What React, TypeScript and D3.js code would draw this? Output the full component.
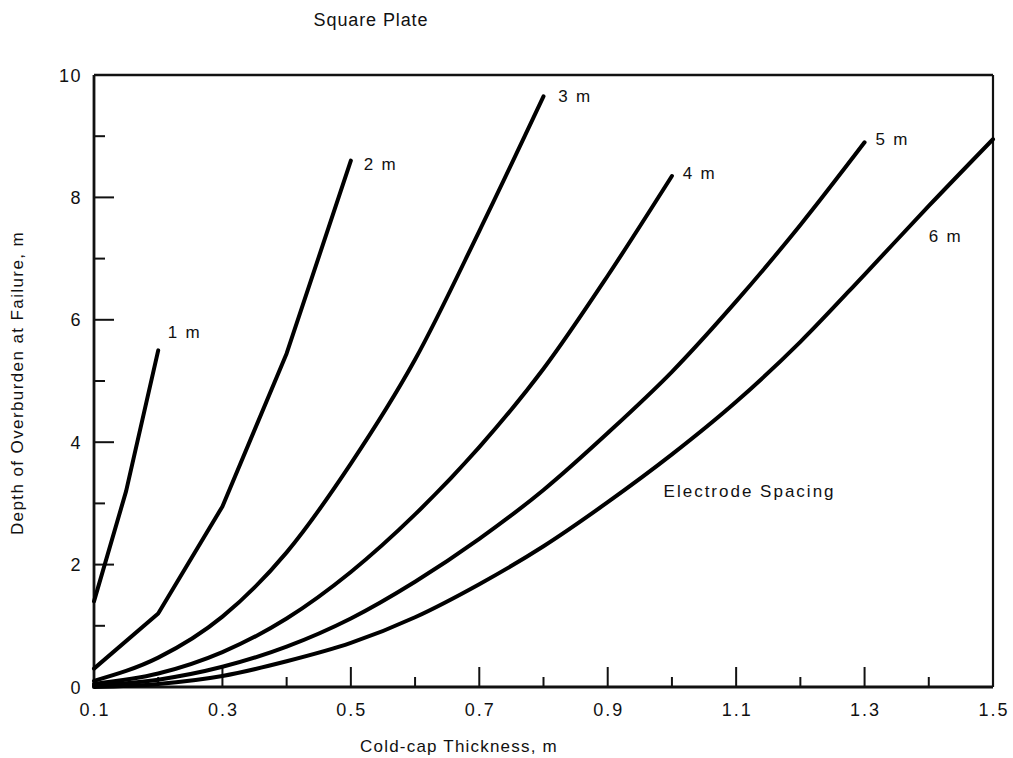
import React from "react";
import * as d3 from "d3";

const title = "Square Plate";
const xAxisTitle = "Cold-cap Thickness, m";
const yAxisTitle = "Depth of Overburden at Failure, m";
const annotation = "Electrode Spacing";

const xTickValues = [0.1, 0.2, 0.3, 0.4, 0.5, 0.6, 0.7, 0.8, 0.9, 1.0, 1.1, 1.2, 1.3, 1.4, 1.5];
const xTickLabels = ["0.1", "0.3", "0.5", "0.7", "0.9", "1.1", "1.3", "1.5"];
const yTickValues = [0, 1, 2, 3, 4, 5, 6, 7, 8, 9, 10];
const yTickLabels = ["0", "2", "4", "6", "8", "10"];

const seriesNames = ["1 m", "2 m", "3 m", "4 m", "5 m", "6 m"];

const s1x = [0.1, 0.15, 0.2];
const s1y = [1.4, 3.2, 5.5];
const s2x = [0.1, 0.2, 0.3, 0.4, 0.5];
const s2y = [0.3, 1.2, 2.95, 5.45, 8.6];
const s3x = [0.1, 0.2, 0.3, 0.4, 0.5, 0.6, 0.7, 0.8];
const s3y = [0.1, 0.48, 1.15, 2.2, 3.65, 5.35, 7.45, 9.65];
const s4x = [0.1, 0.2, 0.3, 0.4, 0.5, 0.6, 0.7, 0.8, 0.9, 1.0];
const s4y = [0.05, 0.22, 0.57, 1.12, 1.88, 2.82, 3.92, 5.2, 6.72, 8.35];
const s5x = [0.1, 0.2, 0.3, 0.4, 0.5, 0.6, 0.7, 0.8, 0.9, 1.0, 1.1, 1.2, 1.3];
const s5y = [0.02, 0.12, 0.33, 0.66, 1.12, 1.72, 2.42, 3.22, 4.15, 5.15, 6.3, 7.55, 8.9];
const s6x = [0.1, 0.2, 0.3, 0.4, 0.5, 0.6, 0.7, 0.8, 0.9, 1.0, 1.1, 1.2, 1.3, 1.4, 1.5];
const s6y = [0.0, 0.05, 0.18, 0.42, 0.72, 1.14, 1.68, 2.3, 3.02, 3.8, 4.66, 5.64, 6.74, 7.86, 8.95];

const seriesX = [s1x, s2x, s3x, s4x, s5x, s6x];
const seriesY = [s1y, s2y, s3y, s4y, s5y, s6y];
const seriesSmooth = [false, false, true, true, true, true];

// label anchors in data units (annotation placement)
const labelAtX = [0.215, 0.52, 0.823, 1.017, 1.317, 1.4];
const labelAtY = [5.8, 8.55, 9.65, 8.4, 8.95, 7.37];
const annotationAt = [0.987, 3.2];

const FONT = "'Liberation Sans', Arial, Helvetica, sans-serif";

export default function App() {
  const W = 1013;
  const H = 758;
  const x = d3.scaleLinear().domain([0.1, 1.5]).range([94, 993]);
  const y = d3.scaleLinear().domain([0, 10]).range([687, 75]);
  const lineLinear = d3
    .line<[number, number]>()
    .x((d) => x(d[0]))
    .y((d) => y(d[1]))
    .curve(d3.curveLinear);
  const lineSmooth = d3
    .line<[number, number]>()
    .x((d) => x(d[0]))
    .y((d) => y(d[1]))
    .curve(d3.curveMonotoneX);

  const isMajorX = (v: number) => Math.round(v * 10) % 2 === 1;

  return (
    <svg
      width={W}
      height={H}
      style={{ position: "absolute", left: 0, top: 0, background: "#fff" }}
      fontFamily={FONT}
    >
      <rect x={0} y={0} width={W} height={H} fill="#fff" />
      {/* title */}
      <text x={371} y={26} textAnchor="middle" fontSize={18} letterSpacing={0.9} fill="#111">
        {title}
      </text>

      {/* frame */}
      <line x1={x(0.1)} x2={x(1.5)} y1={y(10)} y2={y(10)} stroke="#111" strokeWidth={2.4} />
      <line x1={x(1.5)} x2={x(1.5)} y1={y(10)} y2={y(0)} stroke="#111" strokeWidth={2.2} />
      <line x1={x(0.1)} x2={x(0.1)} y1={y(10)} y2={y(0)} stroke="#111" strokeWidth={2.8} />
      <line x1={x(0.1)} x2={x(1.5)} y1={y(0)} y2={y(0)} stroke="#111" strokeWidth={3} />

      {/* x ticks */}
      {xTickValues.map((v) => (
        <line
          key={"xt" + v}
          x1={x(v)}
          x2={x(v)}
          y1={y(0)}
          y2={y(0) - (isMajorX(v) ? 20 : 10)}
          stroke="#111"
          strokeWidth={2}
        />
      ))}
      {xTickLabels.map((t) => (
        <text
          key={"xl" + t}
          x={x(+t) + 1}
          y={716}
          textAnchor="middle"
          fontSize={18}
          letterSpacing={2}
          fill="#111"
        >
          {t}
        </text>
      ))}

      {/* y ticks */}
      {yTickValues.map((v) => (
        <line
          key={"yt" + v}
          x1={x(0.1)}
          x2={x(0.1) + (v % 2 === 0 ? 20 : 11)}
          y1={y(v)}
          y2={y(v)}
          stroke="#111"
          strokeWidth={2}
        />
      ))}
      {yTickLabels.map((t) => (
        <text
          key={"yl" + t}
          x={82}
          y={y(+t) + 6.5}
          textAnchor="end"
          fontSize={18}
          letterSpacing={1.5}
          fill="#111"
        >
          {t}
        </text>
      ))}

      {/* axis titles */}
      <text x={459} y={752} textAnchor="middle" fontSize={17} letterSpacing={1.2} fill="#111">
        {xAxisTitle}
      </text>
      <text
        transform={`translate(23, 383) rotate(-90)`}
        textAnchor="middle"
        fontSize={17}
        letterSpacing={1.4}
        fill="#111"
      >
        {yAxisTitle}
      </text>

      {/* curves */}
      {seriesX.map((xs, i) => {
        const pts = xs.map((xv, j) => [xv, seriesY[i][j]] as [number, number]);
        const gen = seriesSmooth[i] ? lineSmooth : lineLinear;
        return (
          <path
            key={"s" + i}
            d={gen(pts) || ""}
            fill="none"
            stroke="#000"
            strokeWidth={4}
            strokeLinejoin="round"
            strokeLinecap="round"
          />
        );
      })}

      {/* curve labels */}
      {seriesNames.map((n, i) => (
        <text
          key={"lab" + i}
          x={x(labelAtX[i])}
          y={y(labelAtY[i]) + 6}
          fontSize={17}
          letterSpacing={1.8}
          fill="#111"
        >
          {n}
        </text>
      ))}
      <text
        x={x(annotationAt[0])}
        y={y(annotationAt[1]) + 6}
        fontSize={17}
        letterSpacing={2}
        fill="#111"
      >
        {annotation}
      </text>
    </svg>
  );
}
